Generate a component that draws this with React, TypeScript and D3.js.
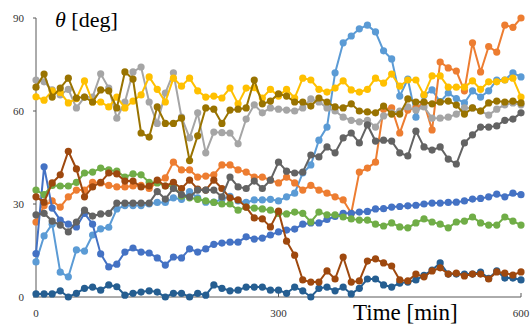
import * as d3 from "d3";

// minutes, one sample every 10 min
const minutes = d3.range(0, 610, 10);

const lightBlue = [
  11.3, 19.7, 23.5, 8, 6.5, 15.2, 14.8, 20, 22, 22.5,
  28.4, 29.5, 29.5, 29.5, 30, 30.5, 30.5, 32, 31.5, 34,
  32, 30.6, 30.6, 31.5, 32.5, 31, 30.5, 31.3, 31.3, 31.5,
  31, 32.3, 33.5, 40, 42.6, 50.6, 54.8, 72.3, 82, 84.2,
  86.5, 87.7, 85.5, 79.4, 76.8, 64.8, 70.3, 58, 65, 66.8,
  63, 65.8, 64, 62.6, 66.5, 64.5, 66.5, 70, 70, 72.3,
  71,
];
const orange = [
  24.2, 29.4, 31, 29, 32.3, 34.5, 34.5, 37, 36.8, 36,
  35.5, 35.5, 35.8, 36, 35, 37, 38.4, 43.5, 41, 41,
  38.7, 39, 39.4, 42.6, 42.6, 41, 40.3, 38.7, 38.7, 37.7,
  36.8, 38.7, 36.8, 34.5, 36, 34.5, 33.5, 32.3, 31.3, 27,
  40.3, 41.6, 43.5, 60.6, 61, 52.9, 60.3, 61, 62.6, 53.9,
  75.8, 73.9, 72.9, 66.5, 82, 72.6, 80.8, 79, 87.7, 87,
  90,
];
const gray = [
  70, 69.4, 66.8, 65.2, 67, 61, 64.5, 64.5, 72, 67.4,
  57.7, 62.9, 72.6, 74.2, 62.9, 56, 65.8, 72.3, 58, 51.3,
  59.4, 46.5, 53.2, 53, 52.9, 49.4, 57.4, 62, 59.4, 61,
  60.6, 60.3, 60, 61, 63.9, 62.9, 61, 60, 58, 57,
  56.5, 57, 54.8, 58.4, 59.4, 60, 61.3, 60.3, 61.3, 57.7,
  57.7, 58, 59, 61, 61, 60, 58.7, 60.6, 62, 62.6,
  62,
];
const yellow = [
  64.6, 63.5, 66.5, 66, 62.6, 64, 69.7, 62.9, 62.9, 61.3,
  64.5, 61, 63.2, 65.2, 71, 67, 62.9, 70.6, 68, 70.6,
  66.5, 64.5, 64.8, 64.2, 67.4, 62.3, 67.4, 67.5, 64.2, 67,
  64.8, 67, 64.2, 70.6, 70, 67, 66.1, 67.4, 69.7, 66.8,
  66.1, 67, 70.6, 69, 71.9, 68, 70, 70, 65.2, 71.3,
  71.3, 67.7, 67.7, 67.7, 69.7, 67, 69.4, 69.4, 70, 70.6,
  64.5,
];
const darkBlue = [
  14, 42, 28.7, 24.8, 23.5, 22.6, 27, 23.5, 13.9, 9.7,
  10.6, 14.5, 15.8, 14.5, 14.2, 12.6, 10.3, 12.9, 12.6, 15.5,
  14.5, 15.5, 17, 17.4, 17.7, 17.7, 19.4, 18.7, 19, 20,
  21, 21.6, 21.9, 23.5, 23.9, 23.9, 25, 26, 27, 27,
  27.4, 27.6, 28.4, 28.5, 29, 29.2, 29.4, 29.6, 30, 30.3,
  30.3, 30.5, 30.6, 31, 31.6, 31.8, 32.3, 33.2, 32.3, 33.5,
  33,
];
const green = [
  34.5, 33, 36, 35.8, 35.8, 37, 40, 40.3, 41.6, 41,
  40.6, 38.7, 39.7, 39.4, 37, 36.8, 35.8, 35.8, 32.5, 32,
  31.5, 31, 30.5, 30, 30, 28, 29, 28.7, 28.4, 28,
  27, 26.8, 27.4, 27, 24.2, 27.4, 26.5, 26.5, 25.8, 25.2,
  24.8, 24.8, 23.5, 22.9, 23.9, 22.6, 22.3, 23.9, 25.2, 24.2,
  23.5, 22.3, 24.2, 24.5, 25.8, 23.9, 23.2, 23.2, 25.8, 24.5,
  23.2,
];
const navy = [
  1, 1, 1, 2, 0, 1.2, 2.8, 3.2, 2.2, 3.9,
  3.3, 0.6, 1.2, 1.6, 2, 1.6, 0, 1.2, 1.2, 0,
  1.2, 0.6, 3.9, 2.8, 2, 2.2, 3.2, 3.2, 3.2, 2.2,
  2.2, 1.2, 3.2, 2, 0, 2.8, 3.2, 2, 3.2, 1,
  2.8, 5.8, 5.8, 3.9, 3.2, 4.5, 4.8, 5.5, 7, 8.7,
  11, 7.4, 7.4, 7.4, 7.4, 8, 6, 8.4, 6.1, 6.1,
  5.5,
];
const brown = [
  32.3, 30.6, 36.8, 39.4, 47, 41.3, 32.3, 35.5, 37, 40,
  39.7, 37.4, 37.4, 35.5, 35.8, 37.7, 35.8, 37, 35, 37.7,
  34.8, 34.5, 37.7, 35, 32, 31.3, 29, 25.5, 25.2, 22.6,
  27.7, 18, 13.5, 5.5, 4.8, 4.8, 8.4, 5.8, 12.9, 4.8,
  5.2, 11.6, 12.3, 11, 10, 5.5, 5.2, 7.4, 6.5, 8.4,
  9.4, 7.4, 7.7, 6.8, 7.4, 7.4, 5.8, 8.1, 7.7, 7.1,
  8.1,
];
const darkGray = [
  26.5, 27, 24.5, 23.2, 21, 24.2, 28, 26.1, 26.8, 27,
  30.3, 30.3, 30.3, 30.3, 30.3, 34, 31.6, 35, 33, 32.3,
  34.5, 34.5, 34.5, 32.3, 38.7, 35.5, 35, 37.4, 35, 37.7,
  43.5, 40.6, 40, 40.3, 45.8, 45.2, 48.4, 46.5, 51.3, 52.9,
  49.7, 55.5, 50.3, 50.6, 50.3, 46.5, 45.5, 53.5, 48.4, 47.4,
  48.4, 44.5, 42.9, 49.7, 52.3, 54.8, 54.8, 55.2, 57, 57.4,
  59.4,
];
const olive = [
  67.7, 71.9, 64.5, 67.4, 70.6, 64.2, 64.5, 62.9, 66.8, 66.5,
  61, 72.6, 70.3, 52.9, 51.6, 61.3, 56, 56, 57.7, 44,
  52, 61, 60.6, 56, 60.3, 60.6, 61, 70, 62.3, 63.2,
  65.5, 64.8, 62.9, 62.9, 61.6, 64.2, 62.9, 61.3, 61, 62.3,
  60, 59.7, 59.4, 61.6, 59, 59, 63.9, 62.9, 62.9, 62.3,
  62.9, 63.2, 61.9, 59, 61, 60, 62.6, 63.2, 62.9, 63.2,
  62.6,
];

const series = [lightBlue, orange, gray, yellow, darkBlue, green, navy, brown, darkGray, olive];
const colors = [
  "#5B9BD5", "#ED7D31", "#A5A5A5", "#FFC000", "#4472C4",
  "#70AD47", "#255E91", "#9E480E", "#636363", "#997300",
];

const xTicks = [0, 300, 600];
const yTicks = [0, 30, 60, 90];

const width = 531;
const height = 329;
const serif = "'Liberation Serif', 'Times New Roman', serif";

export default function App() {
  const x = d3.scaleLinear().domain([0, 600]).range([36, 521]);
  const y = d3.scaleLinear().domain([0, 90]).range([297, 18]);

  const line = d3
    .line<number>()
    .x((_, i) => x(minutes[i]))
    .y((d) => y(d));

  const axisColor = "#595959";

  return (
    <div style={{ position: "absolute", left: 0, top: 0 }}>
      <svg width={width} height={height} style={{ display: "block", background: "#fff" }}>
        {/* axes */}
        <line x1={x(0)} x2={x(0)} y1={y(0)} y2={y(90)} stroke={axisColor} strokeWidth={1} />
        <line x1={x(0)} x2={x(600)} y1={y(0)} y2={y(0)} stroke={axisColor} strokeWidth={1} />
        {yTicks.map((t) => (
          <g key={"y" + t}>
            <line x1={x(0) - 3} x2={x(0)} y1={y(t)} y2={y(t)} stroke={axisColor} />
            <text
              x={24}
              y={y(t)}
              dy="0.35em"
              textAnchor="end"
              fontFamily={serif}
              fontSize={11}
              fill="#333"
            >
              {t}
            </text>
          </g>
        ))}
        {xTicks.map((t) => (
          <g key={"x" + t}>
            <line x1={x(t)} x2={x(t)} y1={y(0)} y2={y(0) - 4} stroke={axisColor} />
            <text
              x={x(t)}
              y={317}
              textAnchor="middle"
              fontFamily={serif}
              fontSize={11}
              fill="#333"
            >
              {t}
            </text>
          </g>
        ))}

        {/* series */}
        {series.map((vals, s) => (
          <g key={s}>
            <path d={line(vals) ?? ""} fill="none" stroke={colors[s]} strokeWidth={2} />
            {vals.map((v, i) => (
              <circle key={i} cx={x(minutes[i])} cy={y(v)} r={3.6} fill={colors[s]} />
            ))}
          </g>
        ))}

        {/* axis titles */}
        <text x={55} y={27} fontFamily={serif} fontSize={22} fill="#000">
          <tspan fontStyle="italic">θ</tspan>
          <tspan> [deg]</tspan>
        </text>
        <text x={353} y={320} fontFamily={serif} fontSize={23} fill="#000">
          Time [min]
        </text>
      </svg>
    </div>
  );
}
